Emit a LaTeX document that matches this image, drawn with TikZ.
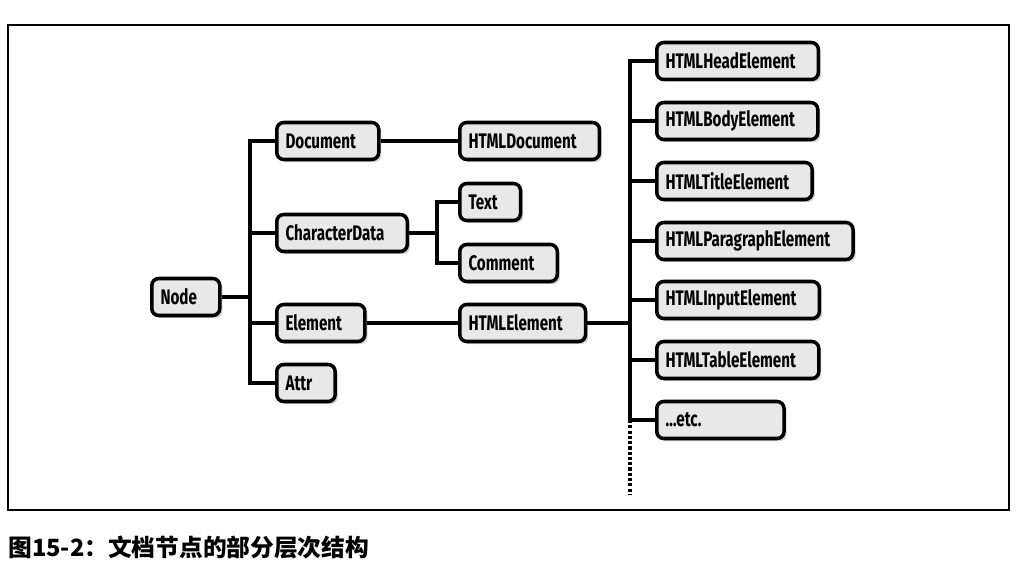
\documentclass[tikz,border=0pt]{standalone}
\usepackage{fontspec}
\setmainfont{Fira Sans}
\newfontfamily\boxfont[FakeStretch=0.72]{Fira Sans}
\newfontfamily\cjk{Noto Sans CJK SC}
\usetikzlibrary{positioning, shadows}

\begin{document}
\begin{tikzpicture}[x=0.02cm, y=-0.02cm,
    box/.style={draw, line width=2pt, rounded corners=4pt, fill=gray!18,
        font=\boxfont\bfseries\fontsize{12}{14}\selectfont, anchor=west,
        inner xsep=5pt, minimum height=0.74cm,
        execute at end node={\hspace*{8pt}},
        drop shadow={opacity=0.35, shadow xshift=1.5pt, shadow yshift=-1.5pt}},
    link/.style={line width=1.8pt}]
    \useasboundingbox (0,0) rectangle (1026,577);

    % Rahmen
    \draw[line width=1pt] (8,25) rectangle (1009,510);

    % Knoten links
    \node[box] (node) at (150,297) {Node};
    \node[box] (doc) at (275,141) {Document};
    \node[box] (chardata) at (275,233) {CharacterData};
    \node[box] (elem) at (275,323) {Element};
    \node[box] (attr) at (275,383) {Attr};

    % Knoten Mitte
    \node[box] (htmldoc) at (458,141) {HTMLDocument};
    \node[box] (text) at (458,202) {Text};
    \node[box] (comment) at (458,263) {Comment};
    \node[box] (htmlelem) at (458,323) {HTMLElement};

    % Knoten rechts
    \foreach \name/\txt/\y in {head/HTMLHeadElement/61, body/HTMLBodyElement/121,
        title/HTMLTitleElement/181, para/HTMLParagraphElement/241,
        input/HTMLInputElement/300, table/HTMLTableElement/360}
        \node[box] (\name) at (655,\y) {\txt};
    \node[box] (etc) at (655,420) {\dots etc.\hspace*{34pt}};

    % Verbindungen von Node
    \coordinate (nodetrunk) at (250,297);
    \draw[link] (node) -- (nodetrunk);
    \foreach \n in {doc, chardata, elem, attr}
        \draw[link] (nodetrunk) |- (\n);

    % Verbindungen der Mitte
    \draw[link] (doc) -- (htmldoc);
    \coordinate (cdtrunk) at (437,233);
    \draw[link] (chardata) -- (cdtrunk);
    \draw[link] (cdtrunk) |- (text);
    \draw[link] (cdtrunk) |- (comment);
    \draw[link] (elem) -- (htmlelem);

    % Verbindungen rechts
    \coordinate (htmltrunk) at (630,323);
    \coordinate (trunkend) at (630,495);
    \draw[link] (htmlelem) -- (htmltrunk);
    \foreach \n in {head, body, title, para, input, table, etc}
        \draw[link] (htmltrunk) |- (\n);
    \draw[link, dash pattern=on 1.8pt off 1.2pt] (htmltrunk |- etc) -- (trunkend);

    % Bildunterschrift
    \node[anchor=west, inner sep=0pt, font=\cjk\bfseries\fontsize{13.5}{16}\selectfont] (caption) at (8,547)
        {图15-2：文档节点的部分层次结构};
\end{tikzpicture}
\end{document}
